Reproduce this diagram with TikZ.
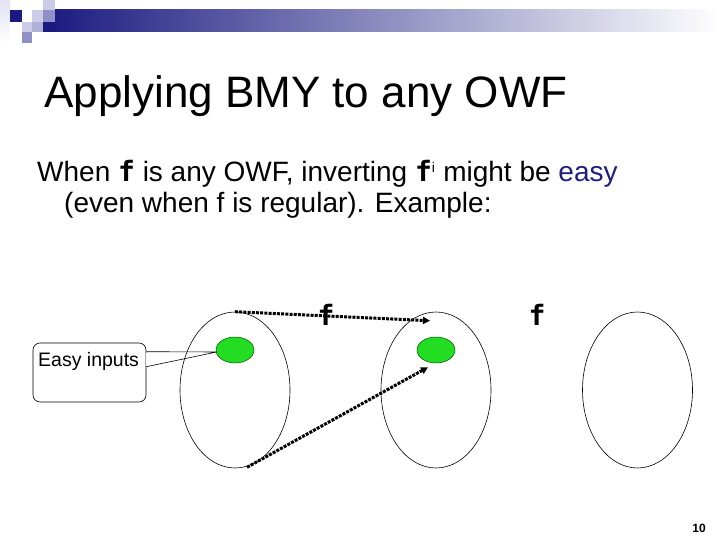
\documentclass[tikz,border=0pt]{standalone}
\usepackage{fontspec}
\setmainfont{Liberation Sans}
\newfontfamily\monof{DejaVu Sans Mono}
\usetikzlibrary{shapes.geometric,arrows.meta,calc}
\definecolor{navyb}{RGB}{26,26,128}
\definecolor{midbar}{RGB}{168,168,186}
\definecolor{sqlight}{RGB}{204,204,232}
\definecolor{sqmid}{RGB}{144,144,200}
\definecolor{sqpale}{RGB}{226,226,242}
\definecolor{easyblue}{RGB}{31,31,128}
\definecolor{greenfill}{RGB}{34,221,34}
\tikzset{
  bigset/.style={ellipse, draw=black, line width=0.6pt, minimum width=110pt, minimum height=156pt, inner sep=0pt},
  greenset/.style={ellipse, draw=black!70!green, fill=greenfill, line width=0.5pt, minimum width=38pt, minimum height=26pt, inner sep=0pt},
  dotarrow/.style={line width=3pt, dash pattern=on 3pt off 1.2pt, -{Triangle[length=7pt,width=7pt]}},
  flabel/.style={anchor=base, inner sep=0pt, font=\fontsize{28}{32}\selectfont\monof\bfseries},
  callbox/.style={draw=black, line width=0.6pt, rounded corners=7pt, minimum width=113pt, minimum height=59pt, inner sep=0pt}
}
\begin{document}
\begin{tikzpicture}[x=1pt,y=-1pt]
\useasboundingbox (0,0) rectangle (720,540);
% header decoration
\shade[left color=navyb, middle color=midbar, right color=white] (43,10) rectangle (720,32);
\shade[top color=sqpale, bottom color=white] (0,0) rectangle (10,43);
\fill[navyb] (10,10) rectangle (22,22);
\fill[sqlight] (43,0) rectangle (55,10);
\fill[sqlight] (32,10) rectangle (43,22);
\fill[sqmid] (43,10) rectangle (55,22);
\fill[sqlight] (22,22) rectangle (32,32);
\fill[sqmid!70!white] (32,22) rectangle (43,32);
\fill[navyb] (43,22) rectangle (55,32);
\fill[sqmid] (22,32) rectangle (32,43);
% title
\node[anchor=base west, inner sep=0pt] (title) at (44,108) {\fontsize{44}{50}\selectfont Applying BMY to any OWF};
% body
\node[anchor=base west, inner sep=0pt] (line1) at (37,182) {\fontsize{28}{33}\selectfont When {\monof\bfseries f} is any OWF, inverting {\monof\bfseries f}\textsuperscript{\fontsize{14}{16}\selectfont i} might be \textcolor{easyblue}{easy}};
\node[anchor=base west, inner sep=0pt] (line2) at (64,212) {\fontsize{28}{33}\selectfont (even when f is regular). Example:};
% sets
\node[bigset] (e1) at (235,390) {};
\node[bigset] (e2) at (436,390) {};
\node[bigset] (e3) at (637.5,390) {};
\node[greenset] (g1) at (235,350) {};
\node[greenset] (g2) at (436,350) {};
% labels f
\node[flabel] (f1) at (326,325) {f};
\node[flabel] (f2) at (537,325) {f};
% arrows
\coordinate (a1end) at ($(g2.north)+(-6,-16)$);
\coordinate (a2end) at ($(g2.south)+(-8,4)$);
\coordinate (a2start) at ($(e1.south)+(12,-1)$);
\draw[dotarrow] (e1.north) -- (a1end);
\draw[dotarrow] (a2start) -- (a2end);
% callout
\node[callbox] (callout) at (89.5,372.5) {};
\node[anchor=base west, inner sep=0pt] (easytxt) at (38,366) {\fontsize{19.5}{22}\selectfont Easy inputs};
\coordinate (pt1) at ($(callout.north east)+(0,9)$);
\coordinate (pt2) at ($(callout.north east)+(0,24)$);
\draw[white, line width=1.4pt] ($(pt1)+(0,0.8)$) -- ($(pt2)+(0,-0.8)$);
\draw[line width=0.6pt, line join=round] (pt1) -- ($(g1.west)+(1,2)$) -- (pt2);
% page number
\node[anchor=base, inner sep=0pt] (pg) at (699,532) {\fontsize{12}{14}\selectfont\bfseries 10};
\end{tikzpicture}
\end{document}
